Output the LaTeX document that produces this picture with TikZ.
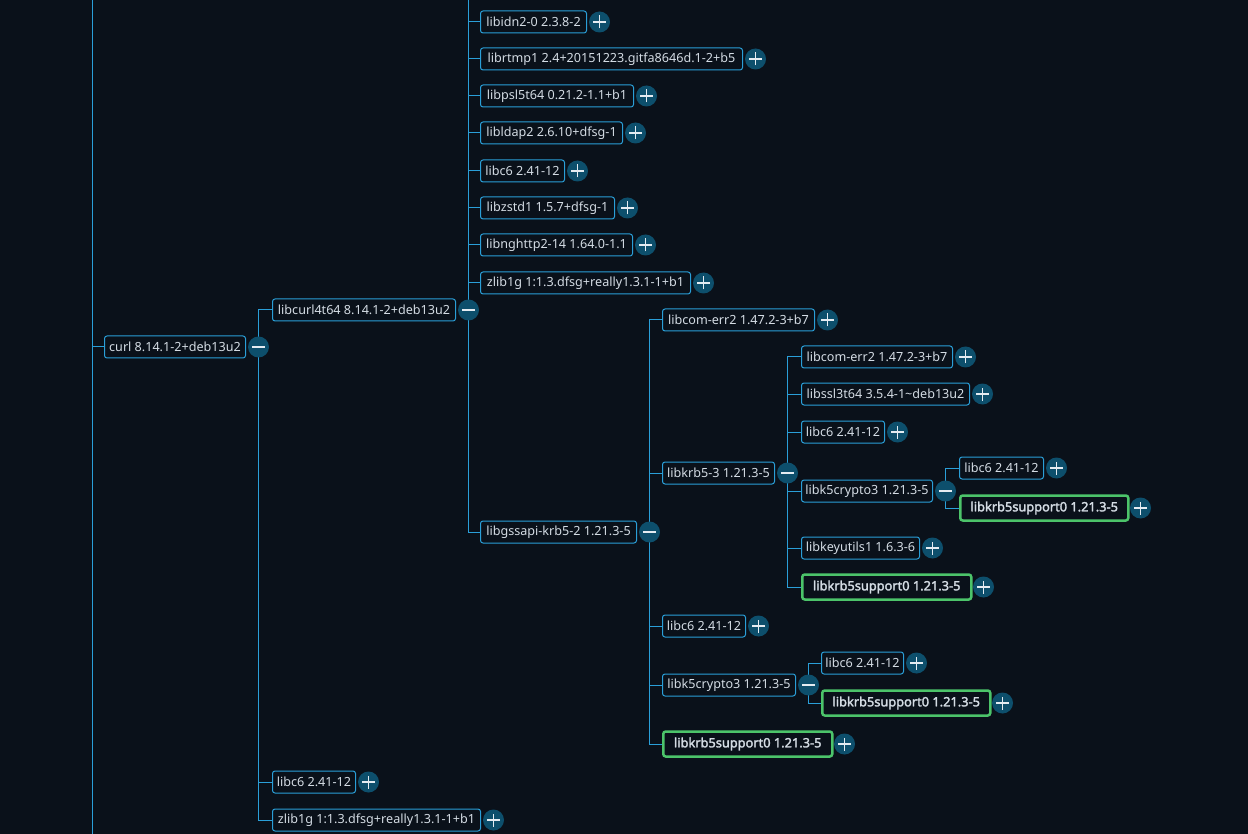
\documentclass[tikz,border=0pt]{standalone}
\usepackage{fontspec}
\setmainfont{Noto Sans}
\newfontfamily\pkbold{Noto Sans}[FakeBold=2.2]
\definecolor{bgc}{HTML}{0A111A}
\definecolor{boxc}{HTML}{2A9FD8}
\definecolor{txtc}{HTML}{D4DCE4}
\definecolor{circc}{HTML}{0D4F6C}
\definecolor{grnc}{HTML}{4CC46A}
\definecolor{signc}{HTML}{E4ECF2}
\pgfdeclarelayer{back}
\pgfdeclarelayer{lines}
\pgfsetlayers{back,lines,main}
\tikzset{
  pkgbox/.style={draw=boxc, line width=1pt, rounded corners=2.5pt, fill=bgc, text=txtc,
    font=\fontsize{12.6}{14}\selectfont, anchor=west, minimum height=22pt, inner xsep=2pt, inner ysep=0pt},
  pkggreen/.style={pkgbox, draw=grnc, line width=2.5pt, minimum height=25pt, font=\pkbold\fontsize{12.8}{14}\selectfont},
  togglebase/.style={circle, fill=circc, minimum size=21pt, inner sep=0pt},
  plusc/.style={togglebase, path picture={
    \draw[signc, line width=1.2pt] ([xshift=-6.5pt]path picture bounding box.center) -- ([xshift=6.5pt]path picture bounding box.center);
    \draw[signc, line width=1.2pt] ([yshift=-6.5pt]path picture bounding box.center) -- ([yshift=6.5pt]path picture bounding box.center);}},
  minusc/.style={togglebase, path picture={
    \draw[signc, line width=1.2pt] ([xshift=-6.5pt]path picture bounding box.center) -- ([xshift=6.5pt]path picture bounding box.center);}},
  conn/.style={draw=boxc, line width=1pt}
}
% \pk{name}{xl}{xr}{y}{text}{boxstyle}{togglestyle}
\newcommand{\pk}[7]{%
  \node[#6, minimum width={#3-#2-1}] (#1) at (#2,#4) {#5};
  \node[#7] (#1c) at (#3+12.5,#4) {};
}
\begin{document}
\begin{tikzpicture}[x=1pt,y=-1pt]
\begin{pgfonlayer}{back}
\fill[bgc] (0,0) rectangle (1248,834);
\end{pgfonlayer}
\useasboundingbox (0,0) rectangle (1248,834);

\pk{curl}{104}{246}{347}{curl 8.14.1-2+deb13u2}{pkgbox}{minusc}
\pk{lc}{272}{456}{310}{libcurl4t64 8.14.1-2+deb13u2}{pkgbox}{minusc}
\pk{aa}{480}{587}{22}{libidn2-0 2.3.8-2}{pkgbox}{plusc}
\pk{ab}{480}{743}{59}{librtmp1 2.4+20151223.gitfa8646d.1-2+b5}{pkgbox}{plusc}
\pk{ac}{480}{634}{96}{libpsl5t64 0.21.2-1.1+b1}{pkgbox}{plusc}
\pk{ad}{480}{623}{133}{libldap2 2.6.10+dfsg-1}{pkgbox}{plusc}
\pk{ae}{480}{565}{171}{libc6 2.41-12}{pkgbox}{plusc}
\pk{af}{480}{615}{208}{libzstd1 1.5.7+dfsg-1}{pkgbox}{plusc}
\pk{ag}{480}{633}{245}{libnghttp2-14 1.64.0-1.1}{pkgbox}{plusc}
\pk{ah}{480}{691}{283}{zlib1g 1:1.3.dfsg+really1.3.1-1+b1}{pkgbox}{plusc}
\pk{gs}{480}{637}{532}{libgssapi-krb5-2 1.21.3-5}{pkgbox}{minusc}
\pk{ba}{662}{815}{320}{libcom-err2 1.47.2-3+b7}{pkgbox}{plusc}
\pk{kr}{662}{775}{473}{libkrb5-3 1.21.3-5}{pkgbox}{minusc}
\pk{bc}{662}{746}{626}{libc6 2.41-12}{pkgbox}{plusc}
\pk{ka}{662}{796}{685}{libk5crypto3 1.21.3-5}{pkgbox}{minusc}
\pk{be}{662}{832}{744}{libkrb5support0 1.21.3-5}{pkggreen}{plusc}
\pk{ca}{801}{953}{357}{libcom-err2 1.47.2-3+b7}{pkgbox}{plusc}
\pk{cb}{801}{970}{394}{libssl3t64 3.5.4-1\textasciitilde deb13u2}{pkgbox}{plusc}
\pk{cc}{801}{885}{432}{libc6 2.41-12}{pkgbox}{plusc}
\pk{kb}{801}{933}{491}{libk5crypto3 1.21.3-5}{pkgbox}{minusc}
\pk{ce}{801}{920}{548}{libkeyutils1 1.6.3-6}{pkgbox}{plusc}
\pk{cf}{801}{971}{587}{libkrb5support0 1.21.3-5}{pkggreen}{plusc}
\pk{da}{959}{1044}{468}{libc6 2.41-12}{pkgbox}{plusc}
\pk{db}{959}{1128}{508}{libkrb5support0 1.21.3-5}{pkggreen}{plusc}
\pk{ea}{821}{904}{663}{libc6 2.41-12}{pkgbox}{plusc}
\pk{eb}{821}{990}{703}{libkrb5support0 1.21.3-5}{pkggreen}{plusc}
\pk{ra}{272}{356}{782}{libc6 2.41-12}{pkgbox}{plusc}
\pk{rb}{272}{481}{820}{zlib1g 1:1.3.dfsg+really1.3.1-1+b1}{pkgbox}{plusc}

\coordinate (topL) at (92,0);
\coordinate (botL) at (92,834);
\coordinate (rootj) at (92,347);
\coordinate (topC) at (468.5,0);

\begin{pgfonlayer}{lines}
\draw[conn] (topL) -- (botL);
\draw[conn] (rootj) -- (curl.west);
\foreach \c in {lc,ra,rb} \draw[conn] (curlc.center) |- (\c.west);
\draw[conn] (lcc.center) -- (topC);
\foreach \c in {aa,ab,ac,ad,ae,af,ag,ah,gs} \draw[conn] (lcc.center) |- (\c.west);
\foreach \c in {ba,kr,bc,ka,be} \draw[conn] (gsc.center) |- (\c.west);
\foreach \c in {ca,cb,cc,kb,ce,cf} \draw[conn] (krc.center) |- (\c.west);
\foreach \c in {da,db} \draw[conn] (kbc.center) |- (\c.west);
\foreach \c in {ea,eb} \draw[conn] (kac.center) |- (\c.west);
\end{pgfonlayer}
\end{tikzpicture}
\end{document}
